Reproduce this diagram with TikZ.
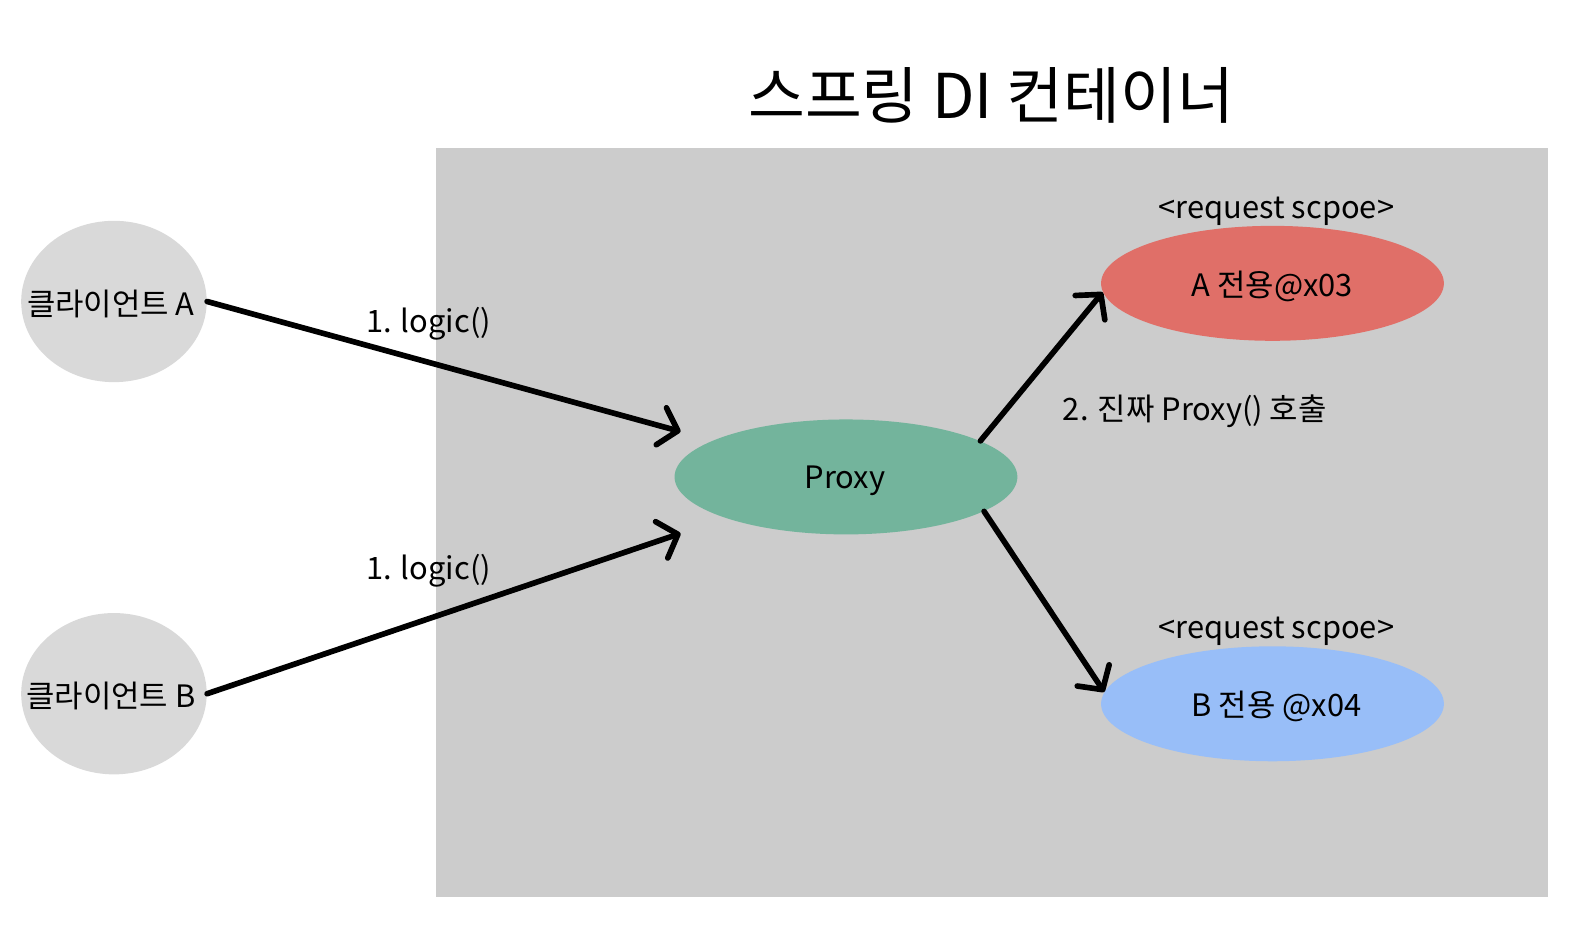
\documentclass[tikz,border=0pt]{standalone}
\usepackage{fontspec}
\setmainfont{Noto Sans CJK KR}
\usetikzlibrary{arrows.meta}
\usetikzlibrary{shapes.geometric}
\usetikzlibrary{positioning}
\definecolor{boxgray}{HTML}{CCCCCC}
\definecolor{clientgray}{HTML}{D9D9D9}
\definecolor{proxygreen}{HTML}{73B49C}
\definecolor{beanred}{HTML}{E06F68}
\definecolor{beanblue}{HTML}{98BEF8}
\tikzset{client/.style = {ellipse, fill = clientgray, inner sep = 0pt,
                          minimum width = 92pt, minimum height = 80pt},
         bean/.style = {ellipse, inner sep = 0pt,
                        minimum width = 170pt, minimum height = 57pt},
         txt/.style = {font = \fontsize{15.3}{18}\selectfont, inner sep = 0pt},
         call/.style = {line width = 2.8pt, line cap = round,
                        -{Straight Barb[length = 8.5pt, width = 19pt, round]}}}
\begin{document}
\begin{tikzpicture}[x = 0.5pt, y = -0.5pt]
      \useasboundingbox (0, 0) rectangle (1567, 936);
      \fill [boxgray] (432, 147) rectangle (1535, 890);
      \node [font = \fontsize{30.6}{36}\selectfont] (title) at (983, 95) {스프링 DI 컨테이너};

      \node [client] (cliA) at (113, 299) {};
      \node [client] (cliB) at (113, 688) {};
      \node [txt] at (110, 301) {클라이언트 A};
      \node [txt] at (110, 690) {클라이언트 B};

      \node [bean, fill = proxygreen] (proxy) at (839, 473) {};
      \node [txt] at (838, 477) {Proxy};
      \node [bean, fill = beanred] (beanA) at (1262, 281) {};
      \node [txt] at (1262, 284) {A 전용@x03};
      \node [bean, fill = beanblue] (beanB) at (1262, 698) {};
      \node [txt] at (1266, 701) {B 전용 @x04};
      \node [txt] (scopeA) at (1266, 210) {<request scpoe>};
      \node [txt] (scopeB) at (1266, 626) {<request scpoe>};

      \coordinate (inA) at (675, 428);
      \coordinate (inB) at (675, 529);
      \draw [call] (cliA.east) -- (inA);
      \draw [call] (cliB.east) -- (inB);
      \node [txt] (logicA) at (425, 321) {1. logic()};
      \node [txt] (logicB) at (425, 566) {1. logic()};
      \draw [call] (proxy.15.6) -- (beanA.183);
      \draw [call] (proxy.-14.8) -- (beanB.176.5);
      \node [txt] (real) at (1185, 408) {2. 진짜 Proxy() 호출};
\end{tikzpicture}
\end{document}
